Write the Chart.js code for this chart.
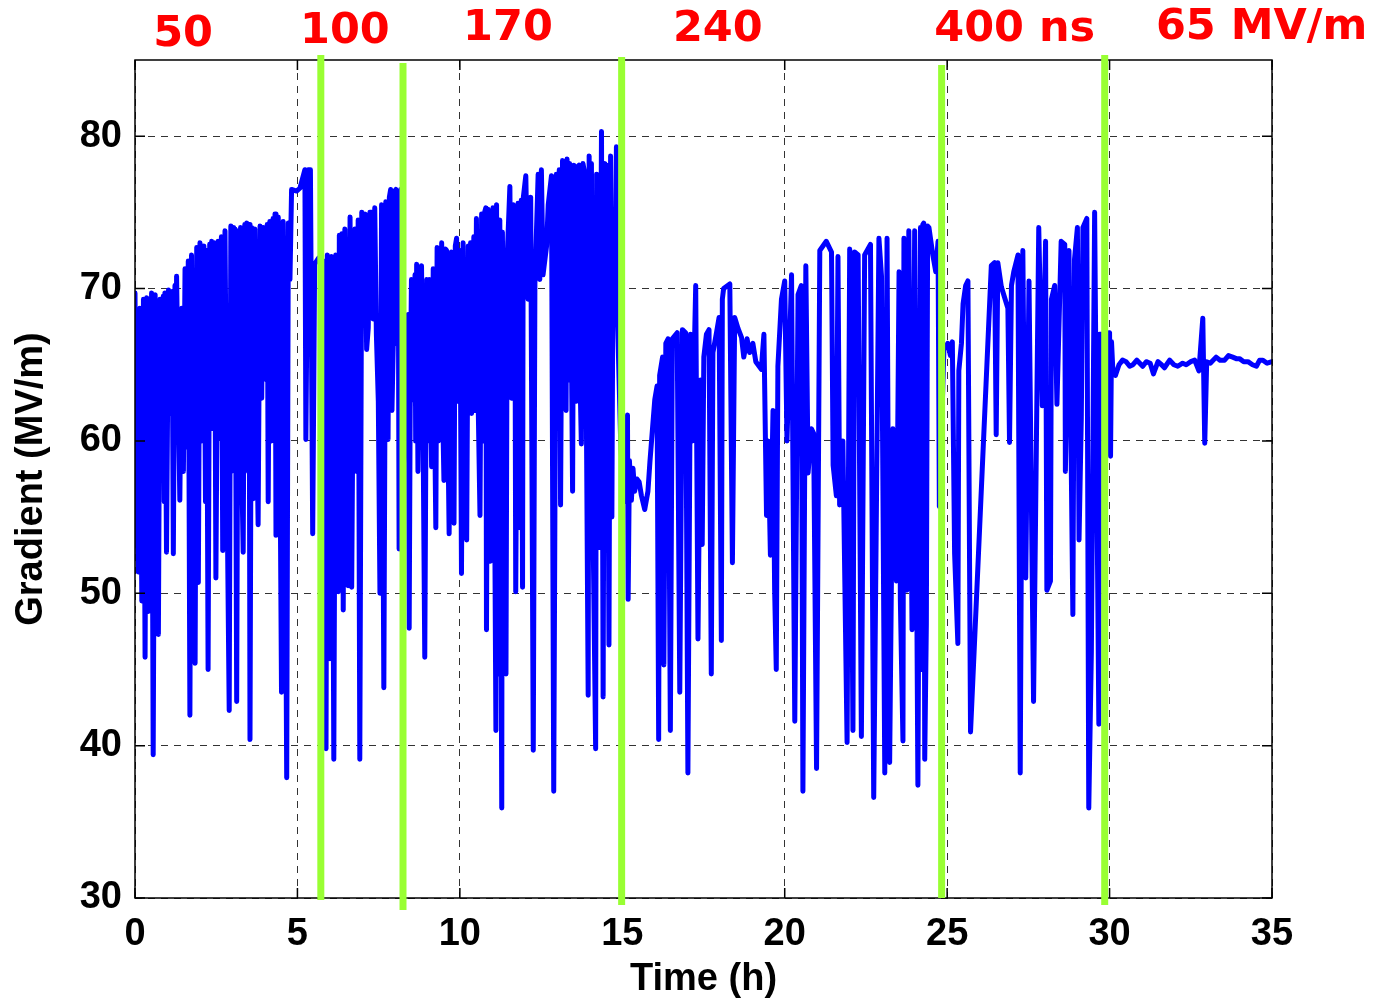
<!DOCTYPE html>
<html>
<head>
<meta charset="utf-8">
<script src="https://cdn.jsdelivr.net/npm/chart.js@4.4.1/dist/chart.umd.min.js"></script>
<style>
  html, body { margin: 0; padding: 0; background: #fff; }
  #wrap { width: 1377px; height: 1000px; }
</style>
</head>
<body>
<div id="wrap"><canvas id="gradChart" width="1377" height="1000"></canvas></div>
<script>
// time (h) and gradient (MV/m)
const times = [
  0.00, 0.05, 0.10, 0.15, 0.21, 0.26, 0.31, 0.36, 0.41, 0.46, 0.48, 0.51, 0.56, 0.62, 0.67, 0.72, 0.77, 0.82, 0.87, 0.90,
  0.92, 0.97, 1.03, 1.10, 1.14, 1.18, 1.23, 1.25, 1.28, 1.38, 1.44, 1.49, 1.54, 1.59, 1.64, 1.69, 1.74, 1.79, 1.85, 1.90,
  1.95, 2.00, 2.05, 2.12, 2.17, 2.20, 2.25, 2.30, 2.33, 2.36, 2.41, 2.45, 2.49, 2.56, 2.62, 2.66, 2.70,
  2.77, 2.83, 2.90, 2.95, 3.01, 3.04, 3.06, 3.08, 3.13, 3.18, 3.23, 3.25, 3.28, 3.33, 3.38, 3.41, 3.44, 3.49, 3.51, 3.54,
  3.59, 3.64, 3.69, 3.74, 3.79, 3.85, 3.90, 3.95, 4.00, 4.05, 4.07, 4.10, 4.15, 4.20, 4.25, 4.28, 4.31, 4.34, 4.41, 4.46,
  4.51, 4.56, 4.61, 4.67, 4.72, 4.77, 4.82, 4.98, 5.08, 5.23, 5.26, 5.33, 5.40, 5.47, 5.53, 5.65, 5.80,
  5.88, 5.92, 5.96, 6.00, 6.05, 6.08, 6.12, 6.18, 6.22, 6.26, 6.29, 6.33, 6.37, 6.41, 6.46, 6.51, 6.56, 6.62, 6.67, 6.72,
  6.77, 6.82, 6.87, 6.92, 6.98, 7.03, 7.08, 7.13, 7.18, 7.23, 7.28, 7.33, 7.38, 7.43, 7.49, 7.54, 7.59, 7.66, 7.72, 7.79,
  7.83, 7.87, 7.91, 7.95, 7.99, 8.03, 8.05, 8.10, 8.13, 8.18, 8.26, 8.35,
  8.41, 8.44, 8.47, 8.51, 8.56, 8.62, 8.64, 8.67, 8.71, 8.75, 8.82, 8.87, 8.92, 8.98, 9.02, 9.06, 9.13, 9.18, 9.22, 9.26,
  9.30, 9.34, 9.38, 9.44, 9.47, 9.51, 9.55, 9.59, 9.63, 9.67, 9.74, 9.78, 9.82, 9.86, 9.90, 9.95, 10.00, 10.05, 10.10, 10.15,
  10.21, 10.26, 10.31, 10.33, 10.36, 10.43, 10.47, 10.51, 10.56, 10.62, 10.67, 10.72, 10.76, 10.80, 10.82, 10.87, 10.94,
  11.02, 11.11, 11.13, 11.18, 11.23, 11.29, 11.31, 11.36, 11.42, 11.46, 11.54, 11.59, 11.64, 11.69, 11.72, 11.79, 11.85, 11.89, 11.93, 11.95,
  12.03, 12.10, 12.18, 12.26, 12.31, 12.41, 12.46, 12.51, 12.56, 12.67, 12.72, 12.82, 12.89, 12.97, 13.02, 13.06, 13.10, 13.16, 13.20, 13.23,
  13.27, 13.30, 13.34, 13.38, 13.42, 13.47, 13.51, 13.55, 13.59, 13.63, 13.67, 13.70, 13.74, 13.79,
  13.85, 13.90, 13.95, 13.98, 14.01, 14.05, 14.10, 14.18, 14.21, 14.25, 14.29, 14.36, 14.41, 14.46, 14.50, 14.53, 14.59, 14.64, 14.68, 14.72,
  14.77, 14.82, 14.84, 14.95, 15.05, 15.16, 15.18, 15.22, 15.28, 15.33, 15.38, 15.45, 15.52, 15.59, 15.69, 15.79, 15.85, 15.93, 16.00, 16.07,
  16.12, 16.15, 16.24, 16.28, 16.34, 16.41, 16.48, 16.54, 16.69, 16.77, 16.85, 16.95, 17.02, 17.10, 17.16, 17.26, 17.33, 17.41, 17.46, 17.51,
  17.59, 17.67, 17.74, 17.79, 17.90, 17.98, 18.05, 18.08, 18.12, 18.31, 18.39, 18.46, 18.56, 18.67, 18.74, 18.84, 18.92, 19.02, 19.11, 19.28,
  19.36, 19.44, 19.49, 19.56, 19.64, 19.69, 19.74, 19.79, 19.90, 20.00, 20.07, 20.21, 20.31, 20.41, 20.51, 20.56, 20.65, 20.72, 20.82, 20.89,
  20.98, 21.08, 21.28, 21.44, 21.49, 21.59, 21.64, 21.69, 21.79, 21.92, 22.00, 22.10, 22.15, 22.26, 22.36, 22.46, 22.64, 22.74, 22.90, 22.98,
  23.08, 23.15, 23.23, 23.33, 23.44, 23.52, 23.56, 23.64, 23.67, 23.76, 23.82, 23.92, 24.00, 24.10, 24.18, 24.22, 24.25, 24.28, 24.31, 24.36,
  24.40, 24.44, 24.56, 24.65, 24.72, 24.76, 24.90, 25.02, 25.10, 25.16, 25.23, 25.33, 25.36, 25.44, 25.49, 25.57, 25.64, 25.72, 26.36, 26.46,
  26.51, 26.56, 26.67, 26.87, 26.92, 26.98, 27.05, 27.18, 27.25, 27.33, 27.42, 27.52, 27.66, 27.82, 27.93, 28.03, 28.07, 28.18, 28.21, 28.31,
  28.38, 28.51, 28.62, 28.64, 28.75, 28.87, 28.92, 29.01, 29.06, 29.13, 29.18, 29.30, 29.36, 29.44, 29.54, 29.67, 29.69, 29.85, 30.00, 30.03,
  30.06, 30.10, 30.18, 30.29, 30.40, 30.51, 30.62, 30.72, 30.84, 31.02, 31.13, 31.25, 31.35, 31.49, 31.60, 31.69, 31.85, 31.98, 32.10, 32.25,
  32.36, 32.50, 32.62, 32.75, 32.87, 32.93, 32.99, 33.10, 33.28, 33.40, 33.54, 33.66, 33.79, 33.90, 34.00, 34.13, 34.26, 34.40, 34.52, 34.62,
  34.72, 34.85, 35.00
];
const gradient = [
  69.7, 55.4, 51.4, 68.7, 49.5, 69.3, 45.8, 69.4, 48.8, 66.0, 57.0, 69.7, 39.4, 69.6, 54.0, 47.3, 69.3, 58.2, 69.5, 56.0,
  69.7, 52.7, 69.9, 61.8, 69.8, 52.6, 70.2, 60.0, 70.8, 56.1, 68.7, 58.0, 71.3, 59.6, 71.8, 42.0, 72.2, 57.0, 45.4, 72.7,
  50.7, 73.0, 60.0, 72.8, 56.0, 72.5, 45.0, 72.9, 61.0, 73.1, 60.8, 73.0, 51.0, 73.1, 60.2, 73.4, 52.8,
  73.8, 57.5, 42.3, 74.1, 65.0, 74.0, 58.0, 73.9, 42.9, 73.8, 62.0, 74.0, 59.0, 52.7, 74.2, 60.0, 74.3, 58.0, 74.2, 40.4,
  74.0, 56.2, 73.9, 62.0, 54.5, 74.1, 62.8, 74.0, 73.4, 64.0, 74.2, 56.0, 74.4, 60.0, 74.6, 63.0, 74.9, 53.8, 74.7, 60.0,
  43.5, 74.4, 63.0, 37.9, 74.3, 70.6, 76.5, 76.4, 76.6, 77.8, 60.1, 77.8, 77.8, 53.9, 71.6, 72.0, 71.8,
  39.8, 72.2, 58.0, 45.7, 72.1, 60.0, 39.1, 72.2, 60.0, 50.1, 73.5, 58.0, 73.6, 48.9, 73.9, 62.0, 50.5, 74.7, 50.4, 65.8,
  73.9, 58.0, 74.5, 39.1, 75.0, 68.0, 74.9, 66.0, 67.4, 75.0, 75.0, 68.0, 75.3, 67.0, 62.6, 50.0, 75.5, 43.8, 75.7, 60.1,
  76.0, 76.5, 62.0, 66.4, 76.4, 76.5, 66.4, 76.4, 52.9, 76.5, 58.0, 66.0,
  68.3, 47.7, 62.0, 70.6, 62.7, 70.9, 60.0, 71.6, 58.0, 65.9, 71.5, 60.0, 45.8, 70.6, 60.0, 70.6, 58.3, 71.3, 62.0, 54.3,
  72.7, 60.0, 63.9, 73.0, 62.0, 57.4, 72.6, 72.5, 61.0, 53.9, 72.4, 62.0, 54.6, 72.8, 73.3, 62.6, 72.5, 51.3, 73.0, 60.0,
  53.5, 72.8, 63.0, 73.0, 61.8, 73.4, 62.0, 74.6, 63.0, 55.1, 74.9, 60.0, 75.0, 75.3, 47.6, 75.2, 52.1,
  75.3, 41.0, 75.5, 44.7, 74.5, 35.9, 73.7, 58.0, 44.7, 72.2, 76.7, 62.8, 75.5, 75.3, 50.1, 75.6, 54.3, 75.8, 50.4, 75.9,
  77.4, 69.3, 76.0, 39.7, 70.3, 77.5, 70.6, 77.8, 70.9, 72.8, 75.5, 77.4, 37.0, 77.5, 63.9, 77.8, 55.8, 78.4, 65.0, 77.5,
  62.0, 78.5, 64.0, 78.2, 70.0, 56.7, 78.1, 66.0, 62.6, 78.0, 78.1, 64.0, 59.8, 78.2,
  77.5, 60.0, 43.3, 78.7, 58.0, 78.2, 54.3, 39.8, 77.5, 60.0, 53.0, 80.3, 43.2, 78.2, 56.0, 78.1, 46.6, 78.7, 55.0, 75.0,
  69.3, 79.3, 69.1, 60.0, 56.0, 61.7, 49.6, 58.7, 56.1, 58.2, 56.7, 57.5, 57.3, 56.4, 55.5, 56.7, 58.6, 60.8, 62.7, 63.6,
  40.4, 64.3, 65.5, 45.3, 66.4, 66.7, 41.0, 66.7, 67.1, 43.5, 67.3, 67.1, 38.2, 67.0, 60.0, 70.2, 47.0, 64.0, 53.2, 65.5,
  67.0, 67.3, 44.7, 65.8, 67.1, 68.1, 46.9, 69.3, 70.0, 70.3, 52.0, 68.1, 67.4, 66.8, 65.5, 66.7, 65.8, 66.4, 65.2, 64.7,
  67.0, 55.1, 60.0, 52.5, 62.0, 50.2, 45.0, 64.9, 69.3, 70.5, 60.0, 70.9, 41.6, 69.6, 70.2, 37.0, 71.5, 57.9, 60.8, 60.5,
  38.5, 72.5, 73.1, 72.4, 58.4, 56.4, 72.1, 55.8, 60.0, 40.2, 72.6, 41.0, 72.4, 72.2, 40.6, 72.2, 72.9, 36.6, 73.3, 70.8,
  38.2, 73.3, 38.9, 60.8, 50.8, 71.1, 49.5, 40.3, 73.3, 50.2, 73.8, 47.6, 73.8, 37.4, 74.0, 45.0, 74.2, 74.3, 39.1, 48.0,
  74.1, 74.0, 72.2, 71.1, 73.1, 55.7, 66.0, 66.4, 65.6, 66.5, 52.6, 46.7, 64.6, 66.4, 69.0, 70.2, 70.5, 40.9, 71.5, 71.7,
  60.4, 71.7, 70.1, 68.7, 59.9, 70.2, 71.1, 72.2, 38.2, 72.5, 51.0, 70.5, 42.9, 74.0, 62.3, 73.1, 50.2, 50.8, 69.3, 70.2,
  62.4, 73.1, 72.9, 58.0, 72.5, 48.6, 71.9, 74.0, 53.5, 61.5, 74.0, 74.6, 35.9, 46.2, 75.0, 41.4, 67.0, 67.0, 67.1, 59.0,
  66.5, 64.7, 64.3, 65.0, 65.3, 65.2, 64.9, 65.0, 65.3, 64.9, 65.2, 65.1, 64.4, 65.2, 65.0, 64.8, 65.3, 65.0, 64.9, 65.1,
  65.0, 65.2, 65.3, 64.6, 68.05, 59.85, 65.2, 65.1, 65.5, 65.3, 65.3, 65.6, 65.5, 65.4, 65.4, 65.2, 65.2, 65.0, 64.9, 65.3,
  65.3, 65.1, 65.2
];
if (times.length !== gradient.length) {
  throw new Error('times/gradient length mismatch: ' + times.length + ' vs ' + gradient.length);
}

// green markers where the pulse length was changed
const markerTimes = [5.72, 8.25, 14.98, 24.83, 29.85];
// red labels along the top
const pulseLabels = ['50', '100', '170', '240', '400 ns', '65 MV/m'];
const labelTimes = [1.48, 6.46, 11.48, 17.94, 27.08, 34.68];

const xTicks = [0, 5, 10, 15, 20, 25, 30, 35];
const yTicks = [30, 40, 50, 60, 70, 80];

const axisFont = { family: '"Liberation Sans", Arial, sans-serif', size: 38, weight: 'bold' };

// frame, inner ticks, green markers and red labels
const overlayPlugin = {
  id: 'overlay',
  afterDraw(chart) {
    const { ctx, chartArea: a, scales: { x, y } } = chart;
    ctx.save();
    // inner tick marks like matlab
    ctx.strokeStyle = '#000';
    ctx.lineWidth = 1.5;
    ctx.beginPath();
    xTicks.forEach(v => {
      const px = x.getPixelForValue(v);
      ctx.moveTo(px, a.bottom); ctx.lineTo(px, a.bottom - 10);
      ctx.moveTo(px, a.top); ctx.lineTo(px, a.top + 10);
    });
    yTicks.forEach(v => {
      const py = y.getPixelForValue(v);
      ctx.moveTo(a.left, py); ctx.lineTo(a.left + 10, py);
      ctx.moveTo(a.right, py); ctx.lineTo(a.right - 10, py);
    });
    ctx.stroke();
    ctx.strokeRect(a.left, a.top, a.right - a.left, a.bottom - a.top);

    // green vertical markers (they run a bit past the frame)
    const over = [[5, 2], [-3, 12], [3, 7], [-5, 0], [5, 7]];
    ctx.strokeStyle = '#99ff33';
    ctx.lineWidth = 7;
    markerTimes.forEach((t, i) => {
      const px = x.getPixelForValue(t);
      ctx.beginPath();
      ctx.moveTo(px, a.top - over[i][0]);
      ctx.lineTo(px, a.bottom + over[i][1]);
      ctx.stroke();
    });

    // red labels
    const labelY = [35, 32, 29, 30, 30, 28];
    ctx.fillStyle = '#ff0000';
    ctx.font = 'bold 43px "DejaVu Sans", sans-serif';
    ctx.textAlign = 'center';
    ctx.textBaseline = 'middle';
    pulseLabels.forEach((s, i) => {
      ctx.fillText(s, x.getPixelForValue(labelTimes[i]), labelY[i]);
    });
    ctx.restore();
  }
};

const points = times.map((t, i) => ({ x: t, y: gradient[i] }));

new Chart(document.getElementById('gradChart'), {
  type: 'line',
  data: {
    datasets: [{
      data: points,
      borderColor: '#0000ff',
      borderWidth: 5,
      borderJoinStyle: 'round',
      borderCapStyle: 'round',
      pointRadius: 0,
      tension: 0,
      fill: false
    }]
  },
  options: {
    responsive: false,
    animation: false,
    devicePixelRatio: 1,
    layout: { padding: { left: 0, top: 60, right: 105, bottom: 0 } },
    plugins: { legend: { display: false }, tooltip: { enabled: false } },
    scales: {
      x: {
        type: 'linear',
        min: 0,
        max: 35,
        z: 1,
        afterBuildTicks: s => { s.ticks = xTicks.map(v => ({ value: v })); },
        afterFit: s => { s.height = 102; },
        grid: { color: '#333', lineWidth: 1, drawTicks: false },
        border: { display: false, dash: [7, 6] },
        ticks: { color: '#000', font: axisFont, padding: 14, maxRotation: 0 },
        title: { display: true, text: 'Time (h)', color: '#000', font: axisFont, padding: { top: 0, bottom: -2 } }
      },
      y: {
        min: 30,
        max: 85,
        z: 1,
        afterBuildTicks: s => { s.ticks = yTicks.map(v => ({ value: v })); },
        afterFit: s => { s.width = 135; },
        grid: { color: '#333', lineWidth: 1, drawTicks: false },
        border: { display: false, dash: [7, 6] },
        ticks: { color: '#000', font: axisFont, padding: 13 },
        title: { display: true, text: 'Gradient (MV/m)', color: '#000', font: axisFont, padding: { top: 9, bottom: 0 } }
      }
    }
  },
  plugins: [overlayPlugin]
});
</script>
</body>
</html>
